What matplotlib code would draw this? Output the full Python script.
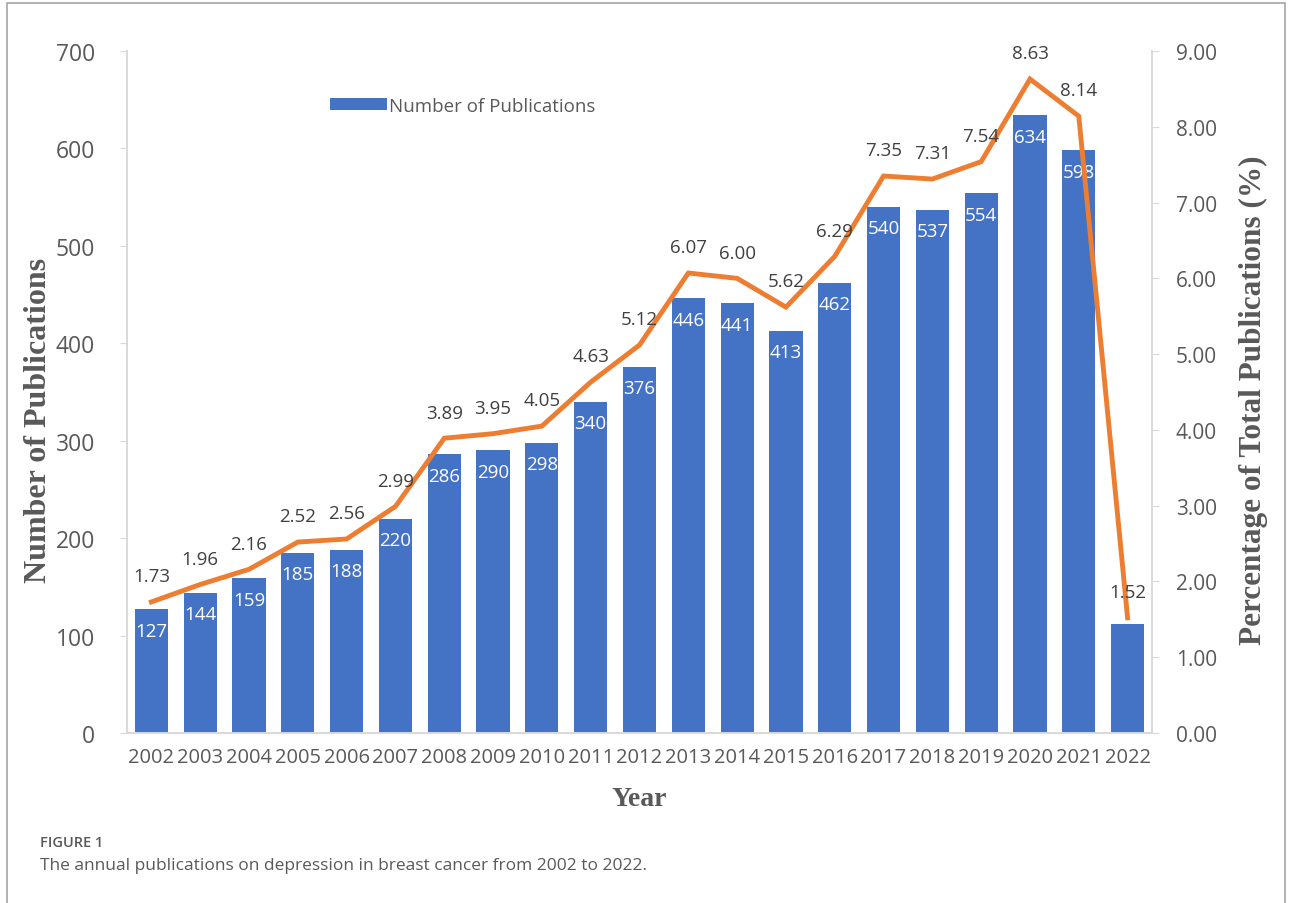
import matplotlib.pyplot as plt
from matplotlib.patches import Rectangle
import numpy as np

years = ['2002', '2003', '2004', '2005', '2006', '2007', '2008', '2009', '2010', '2011', '2012',
         '2013', '2014', '2015', '2016', '2017', '2018', '2019', '2020', '2021', '2022']
publications = [127, 144, 159, 185, 188, 220, 286, 290, 298, 340, 376,
                446, 441, 413, 462, 540, 537, 554, 634, 598, 112]
percentages = [1.73, 1.96, 2.16, 2.52, 2.56, 2.99, 3.89, 3.95, 4.05, 4.63, 5.12,
               6.07, 6.00, 5.62, 6.29, 7.35, 7.31, 7.54, 8.63, 8.14, 1.52]
# 2022 bar carries no value label in the original
show_bar_label = [True] * 20 + [False]

blue = '#4472C4'
orange = '#ED7D31'
grey_txt = '#595959'
axis_grey = '#D9D9D9'

fig = plt.figure(figsize=(12.93, 9.04), dpi=100)
ax = fig.add_axes([127 / 1293, 1 - 734 / 904, (1152 - 127) / 1293, (734 - 52) / 904])
ax2 = ax.twinx()

x = np.arange(len(years))
bars = ax.bar(x, publications, width=0.68, color=blue, label='Number of Publications', zorder=2)
ax.set_xlim(-0.5, len(years) - 0.5)
ax.set_ylim(0, 700)
ax.set_yticks(range(0, 701, 100))
ax.set_xticks(x)
ax.set_xticklabels(years, fontsize=14.5, color=grey_txt, family='Open Sans')
ax.tick_params(axis='x', length=0, pad=10)
ax.tick_params(axis='y', labelsize=16.5, labelcolor=grey_txt, color=axis_grey, length=5, pad=18)
for lab in ax.get_yticklabels():
    lab.set_family('Open Sans')

for b, v, show in zip(bars, publications, show_bar_label):
    if show:
        ax.text(b.get_x() + b.get_width() / 2, v - 22, str(v), ha='center', va='center',
                color='white', fontsize=13.5, family='Open Sans', zorder=3)

ax2.plot(x, percentages, color=orange, lw=3.5, zorder=4, solid_joinstyle='miter')
ax2.set_ylim(0, 9)
ax2.set_yticks(np.arange(0, 9.01, 1))
ax2.set_yticklabels([f'{t:.2f}' for t in np.arange(0, 9.01, 1)], family='Open Sans')
ax2.tick_params(axis='y', labelsize=15, labelcolor=grey_txt, color=axis_grey, length=5, pad=12)
for xi, p in zip(x, percentages):
    ax2.text(xi, p + 0.22, f'{p:.2f}', ha='center', va='bottom', color='#404040',
             fontsize=13.5, family='Open Sans', zorder=5)

for a in (ax, ax2):
    a.spines['top'].set_visible(False)
    for s in ('left', 'right', 'bottom'):
        a.spines[s].set_color(axis_grey)
        a.spines[s].set_linewidth(1.2)

ax.set_ylabel('Number of Publications', fontsize=23, fontweight='bold', family='Liberation Serif',
              color=grey_txt)
ax.yaxis.set_label_coords(-0.072, 0.46)
ax2.set_ylabel('Percentage of Total Publications (%)', fontsize=22.5, fontweight='bold',
               family='Liberation Serif', color=grey_txt)
ax2.yaxis.set_label_coords(1.085, 0.49)
ax.set_xlabel('Year', fontsize=20, fontweight='bold', family='Liberation Serif', color=grey_txt, labelpad=14)

leg = ax.legend(loc='upper left', bbox_to_anchor=(0.182, 0.958), frameon=False,
                prop={'family': 'Open Sans', 'size': 13.5}, handlelength=3.0, handleheight=0.6,
                handletextpad=0.1, labelcolor=grey_txt)

# outer frame of the figure panel
fig.patches.append(Rectangle((7 / 1293, -0.05), 1278 / 1293, 1.05 - 4 / 904, transform=fig.transFigure,
                             fill=False, edgecolor='#A6A6A6', lw=1.2))

fig.text(40 / 1293, 1 - 843 / 904, 'FIGURE 1', fontsize=10.5, color=grey_txt, family='Open Sans',
         fontweight='semibold', va='center')
fig.text(40 / 1293, 1 - 866 / 904, 'The annual publications on depression in breast cancer from 2002 to 2022.',
         fontsize=12.5, color=grey_txt, family='Open Sans', va='center')

fig.savefig('out.png', dpi=100)
